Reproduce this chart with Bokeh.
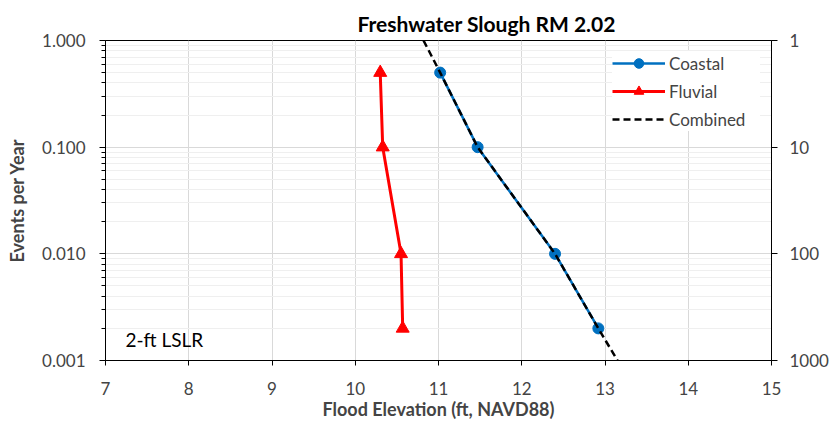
import math
from bokeh.plotting import figure
from bokeh.models import (Range1d, LogAxis, LogScale, PrintfTickFormatter, FixedTicker,
                          Legend, LegendItem, Label)
from bokeh.embed import file_html
from bokeh.resources import INLINE

# ---- data ----
title_text = "Freshwater Slough RM 2.02"
coastal_elev = [11.02, 11.47, 12.40, 12.92]
coastal_freq = [0.5, 0.1, 0.01, 0.002]
fluvial_elev = [10.30, 10.33, 10.55, 10.57]
fluvial_freq = [0.5, 0.1, 0.01, 0.002]
combined_elev = [10.82, 11.02, 11.47, 12.40, 12.92, 13.15]
combined_freq = [1.0, 0.5, 0.1, 0.01, 0.002, 0.001]
x_ticks = [7, 8, 9, 10, 11, 12, 13, 14, 15]
y_ticks = [1.0, 0.1, 0.01, 0.001]
y_minor = [m * 10.0 ** e for e in (-3, -2, -1) for m in range(2, 10)]
ri_ticks = [1, 10, 100, 1000]

FONT = "Lato"

p = figure(width=836, height=422, x_range=Range1d(7, 15), y_range=Range1d(0.001, 1.0),
           y_axis_type="log", output_backend="svg", toolbar_location=None,
           min_border_left=105, min_border_right=65, min_border_top=40, min_border_bottom=61)
p.background_fill_color = "white"
p.border_fill_color = "white"
p.outline_line_color = "black"
p.outline_line_width = 1

# title
p.title.text = title_text
p.title.align = "left"
p.title.offset = 252
p.title.standoff = 10
p.title.text_font = FONT
p.title.text_font_size = "21px"
p.title.text_font_style = "bold"
p.title.text_color = "black"

# x axis
xa = p.xaxis[0]
xa.ticker = FixedTicker(ticks=x_ticks)
xa.axis_label = "Flood Elevation (ft, NAVD88)"
xa.axis_label_text_font = FONT
xa.axis_label_text_font_size = "18px"
xa.axis_label_text_font_style = "bold"
xa.axis_label_standoff = 0
xa.major_label_text_font = FONT
xa.major_label_text_font_size = "17px"
xa.major_label_standoff = 16
xa.major_tick_out = 5
xa.major_tick_in = 0
xa.minor_tick_line_color = None
xa.axis_line_color = "black"
xa.major_tick_line_color = "black"

# left y axis
ya = p.yaxis[0]
ya.ticker = FixedTicker(ticks=y_ticks, minor_ticks=y_minor)
ya.formatter = PrintfTickFormatter(format="%.3f")
ya.axis_label = "Events per Year"
ya.axis_label_text_font = FONT
ya.axis_label_text_font_size = "18px"
ya.axis_label_text_font_style = "bold"
ya.axis_label_standoff = 11
ya.major_label_text_font = FONT
ya.major_label_text_font_size = "17px"
ya.major_label_standoff = 14
ya.major_tick_out = 6
ya.major_tick_in = 0
ya.minor_tick_out = 4
ya.minor_tick_in = 0
ya.axis_line_color = "black"
ya.major_tick_line_color = "black"
ya.minor_tick_line_color = "black"

# right axis: return interval
p.extra_y_ranges = {"ri": Range1d(1000, 1)}
p.extra_y_scales = {"ri": LogScale()}
ra = LogAxis(y_range_name="ri", ticker=FixedTicker(ticks=ri_ticks),
             formatter=PrintfTickFormatter(format="%d"))
ra.major_label_text_font = FONT
ra.major_label_text_font_size = "17px"
ra.major_label_standoff = 12
ra.major_tick_out = 6
ra.major_tick_in = 0
ra.minor_tick_line_color = None
ra.axis_line_color = "black"
ra.major_tick_line_color = "black"
p.add_layout(ra, "right")

# grid
p.xgrid.ticker = FixedTicker(ticks=x_ticks)
p.xgrid.grid_line_color = "#d9d9d9"
p.ygrid.ticker = FixedTicker(ticks=y_ticks, minor_ticks=y_minor)
p.ygrid.grid_line_color = "#d9d9d9"
p.ygrid.minor_grid_line_color = "#efefef"

# series
c_line = p.line(coastal_elev, coastal_freq, line_color="#0070C0", line_width=2.5)
c_pts = p.scatter(coastal_elev, coastal_freq, marker="circle", size=11,
                  fill_color="#0070C0", line_color="#0070C0")
f_line = p.line(fluvial_elev, fluvial_freq, line_color="#FF0000", line_width=3)
f_pts = p.scatter(fluvial_elev, fluvial_freq, marker="triangle", size=13,
                  fill_color="#FF0000", line_color="#FF0000")
k_line = p.line(combined_elev, combined_freq, line_color="black", line_width=2.5,
                line_dash="7 4")

legend = Legend(items=[
    LegendItem(label="Coastal", renderers=[c_line, c_pts]),
    LegendItem(label="Fluvial", renderers=[f_line, f_pts]),
    LegendItem(label="Combined", renderers=[k_line]),
], location="top_right")
legend.label_text_font = FONT
legend.label_text_font_size = "17px"
legend.glyph_width = 53
legend.glyph_height = 24
legend.label_height = 24
legend.label_width = 91
legend.spacing = 4
legend.padding = 10
legend.margin = 11
legend.label_standoff = 4
legend.border_line_color = None
legend.background_fill_color = "white"
legend.background_fill_alpha = 1.0
p.add_layout(legend)

# annotation text
p.add_layout(Label(x=20, y=21, x_units="screen", y_units="screen", text="2-ft LSLR",
                   text_font=FONT, text_font_size="19px", text_baseline="middle",
                   text_color="black"))

# right axis title (reads bottom to top), partly beyond the page edge as in the reference
p.add_layout(Label(x=720, y=155, x_units="screen", y_units="screen",
                   text="Return Interval (yr)", angle=math.pi / 2,
                   text_align="center", text_baseline="top",
                   text_font=FONT, text_font_size="18px", text_font_style="bold",
                   text_color="black"))

open("out.html", "w").write(file_html(p, INLINE))
